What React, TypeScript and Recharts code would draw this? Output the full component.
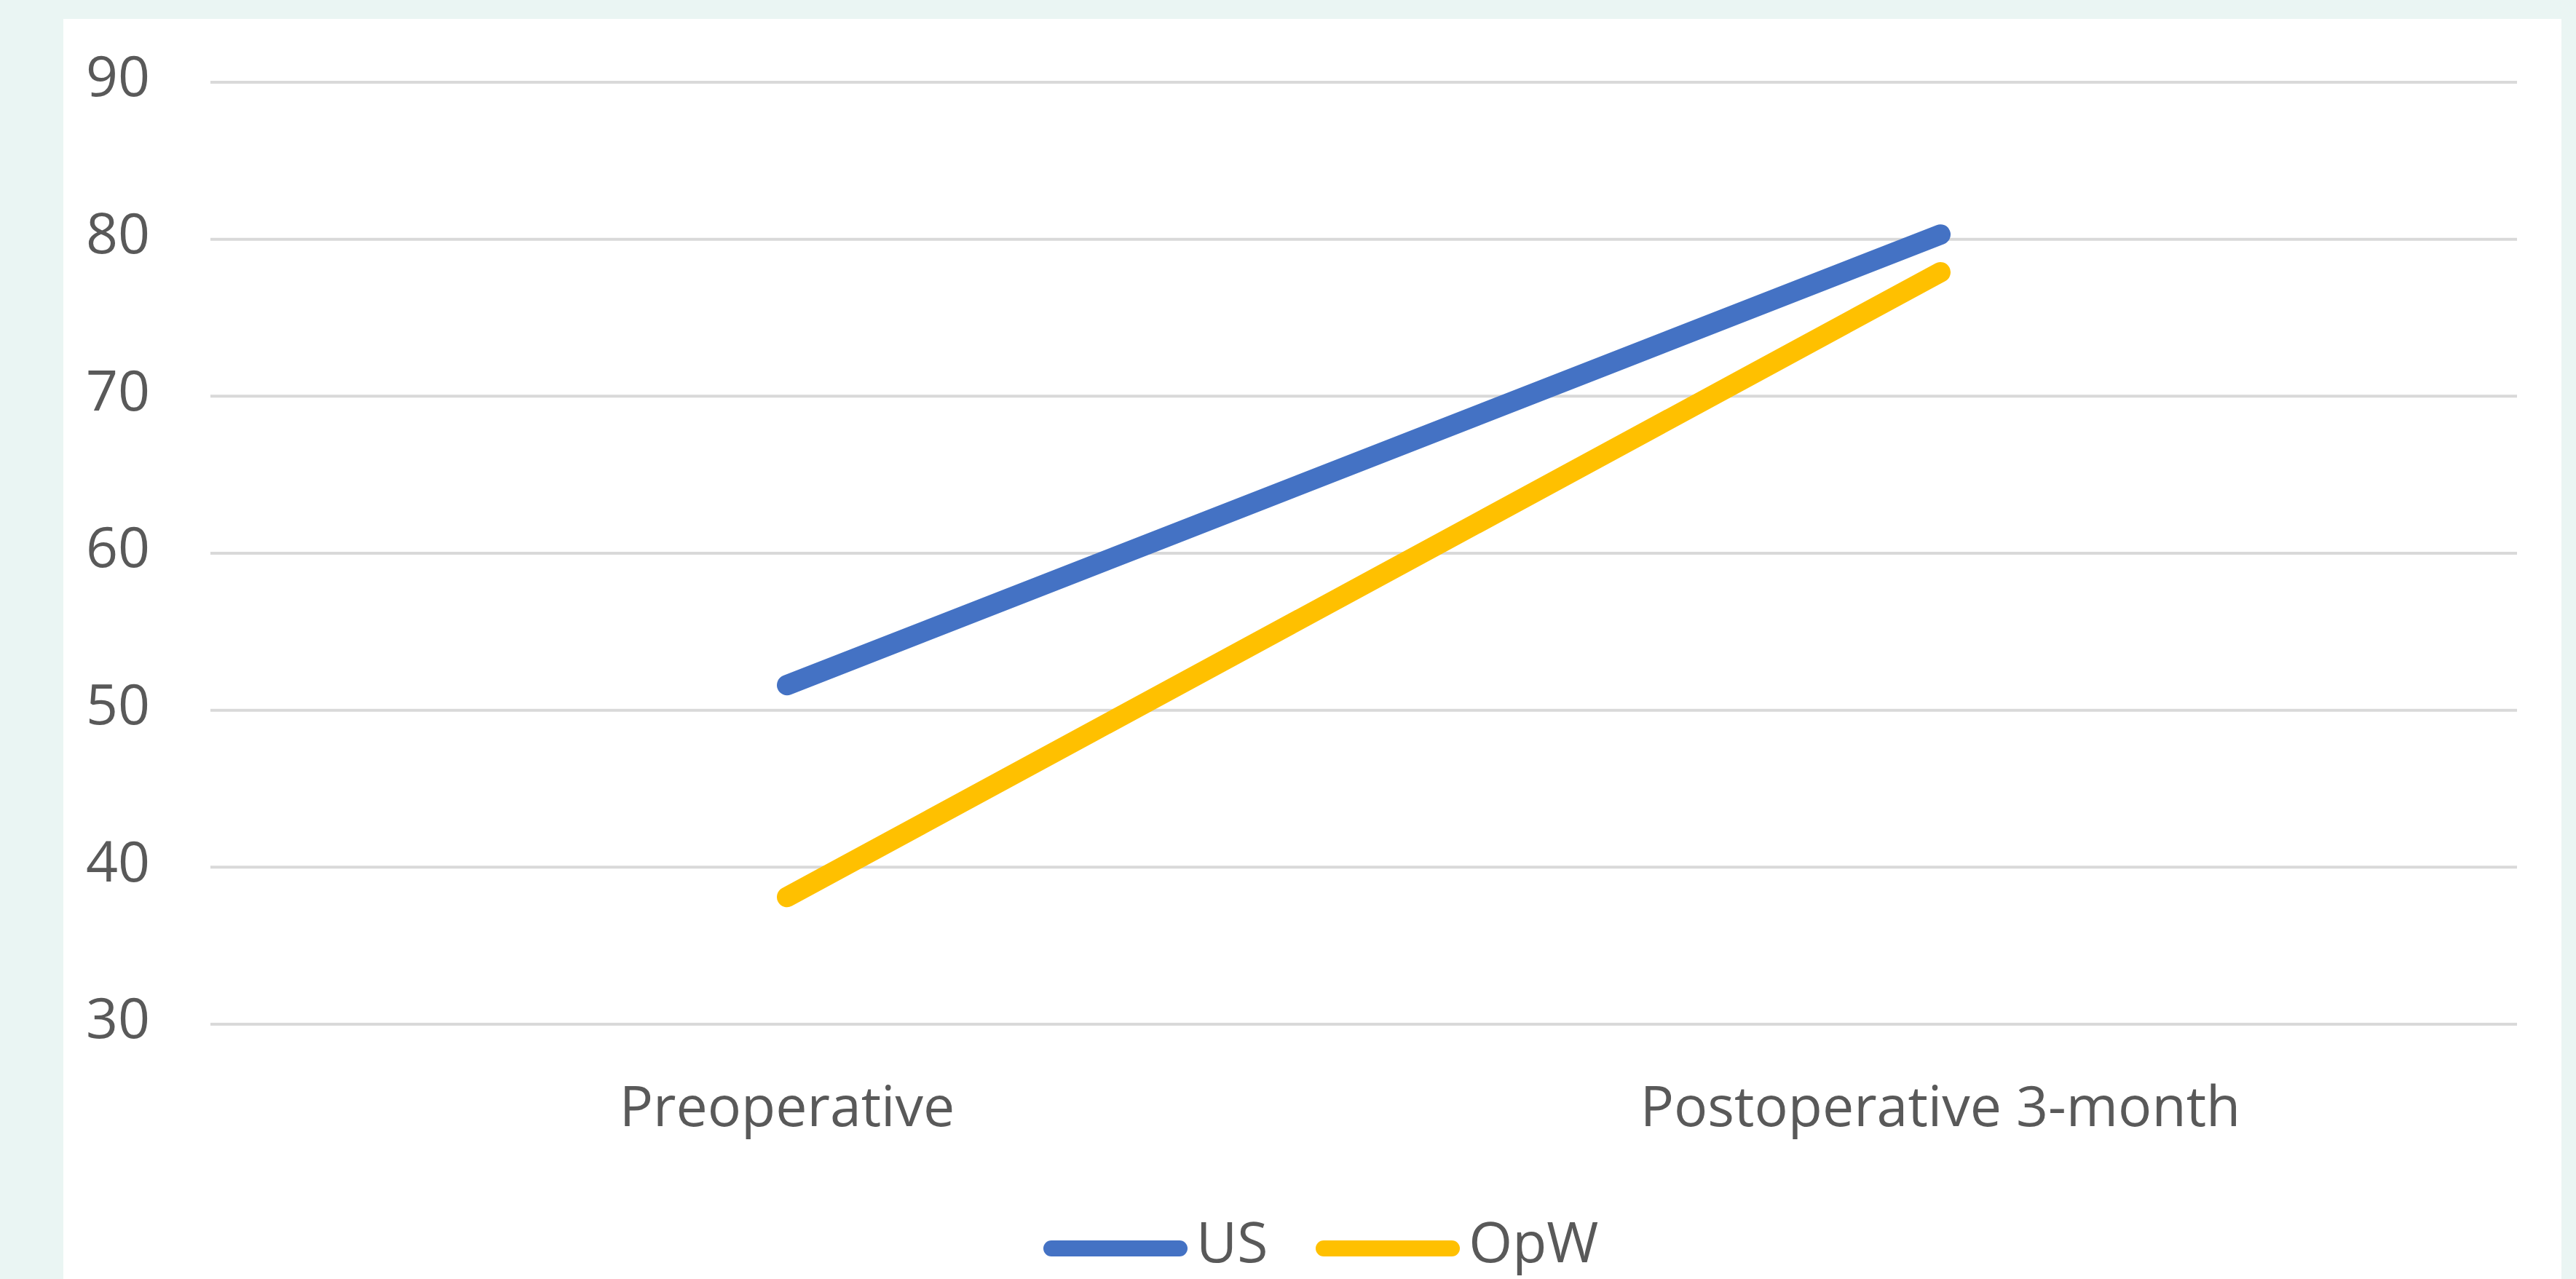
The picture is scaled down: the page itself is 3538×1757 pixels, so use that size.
import React from 'react';
import { LineChart, Line, XAxis, YAxis, CartesianGrid, Legend } from 'recharts';

const categories = ['Preoperative', 'Postoperative 3-month'];
const usValues = [51.6, 80.3];
const opwValues = [38.1, 77.9];
const yTicks = [30, 40, 50, 60, 70, 80, 90];

const seriesInfo = [
  { key: 'US', color: '#4472C4' },
  { key: 'OpW', color: '#FFC000' },
];

const data = categories.map((name, i) => ({
  name,
  US: usValues[i],
  OpW: opwValues[i],
}));

const FONT = '"Open Sans", sans-serif';
const TEXT_COLOR = '#595959';

// legend row: swatch line sits a little lower than the text centre, like the original
const LegendContent = () => (
  <div style={{ display: 'flex', alignItems: 'flex-start', height: 105 }}>
    {seriesInfo.map((s, i) => (
      <div
        key={s.key}
        style={{ display: 'flex', alignItems: 'flex-start', marginRight: i === 0 ? 66 : 0 }}
      >
        <div
          style={{
            width: 198,
            height: 22,
            marginTop: 52,
            borderRadius: 11,
            background: s.color,
          }}
        />
        <span
          style={{
            marginLeft: 12,
            fontFamily: FONT,
            fontSize: 77,
            color: TEXT_COLOR,
            lineHeight: '105px',
          }}
        >
          {s.key}
        </span>
      </div>
    ))}
  </div>
);

const App: React.FC = () => {
  return (
    <div
      style={{
        position: 'absolute',
        left: 0,
        top: 0,
        width: 3538,
        height: 1757,
        background: '#EAF5F3',
        overflow: 'hidden',
      }}
    >
      <div
        style={{
          position: 'absolute',
          left: 87,
          top: 26,
          width: 3431,
          height: 1731,
          background: '#FFFFFF',
        }}
      >
        <LineChart
          width={3431}
          height={1731}
          data={data}
          margin={{ top: 87, right: 61, left: 0, bottom: 0 }}
        >
          <CartesianGrid vertical={false} stroke="#D9D9D9" strokeWidth={4} />
          <XAxis
            dataKey="name"
            scale="band"
            axisLine={false}
            tickLine={false}
            tickSize={0}
            tickMargin={85}
            height={245}
            interval={0}
            tick={{ fontFamily: FONT, fontSize: 77, fill: TEXT_COLOR }}
          />
          <YAxis
            domain={[30, 90]}
            ticks={yTicks}
            axisLine={false}
            tickLine={false}
            tickSize={0}
            tickMargin={83}
            width={202}
            tick={{ fontFamily: FONT, fontSize: 77, fill: TEXT_COLOR, dy: -8 }}
          />
          <Legend
            verticalAlign="bottom"
            height={105}
            content={<LegendContent />}
            wrapperStyle={{ left: 1346, top: 1626, width: 900 }}
          />
          {seriesInfo.map((s) => (
            <Line
              key={s.key}
              type="linear"
              dataKey={s.key}
              stroke={s.color}
              strokeWidth={28}
              strokeLinecap="round"
              dot={false}
              activeDot={false}
              isAnimationActive={false}
            />
          ))}
        </LineChart>
      </div>
    </div>
  );
};

export default App;
